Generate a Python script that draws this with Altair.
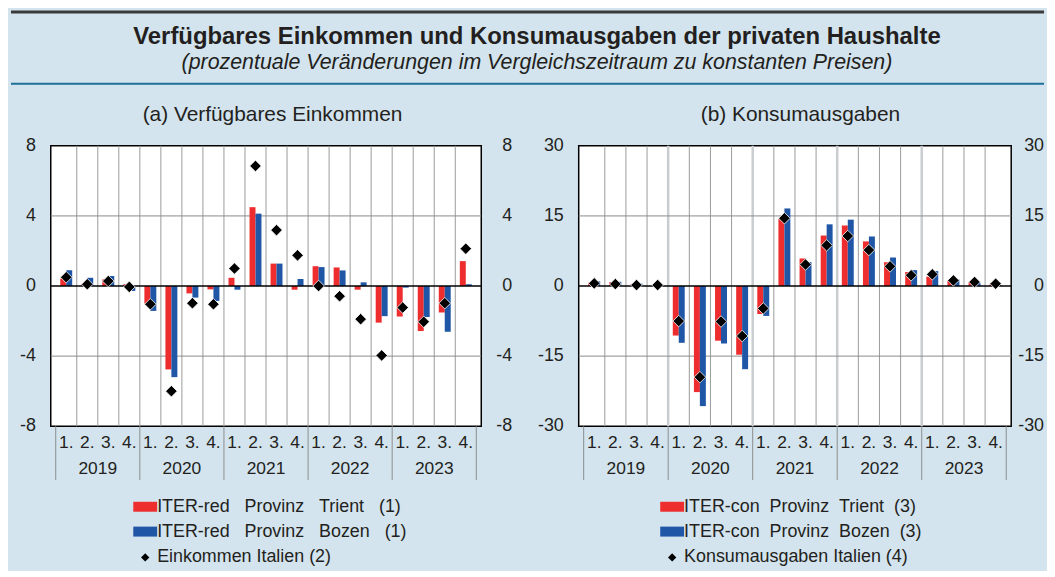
import altair as alt
import pandas as pd

FONT = "Liberation Sans"
TXT = "#231f20"
RED = "#ee2d2f"
BLUE = "#1f56a6"
BG = "#d3e4ee"

main_title = "Verfügbares Einkommen und Konsumausgaben der privaten Haushalte"
main_subtitle = "(prozentuale Veränderungen im Vergleichszeitraum zu konstanten Preisen)"

quarter_labels = ["1.", "2.", "3.", "4."] * 5
year_labels = ["2019", "2020", "2021", "2022", "2023"]

# (a) Verfügbares Einkommen
inc_trient = [0.42, 0.10, 0.38, 0.10, -1.00, -4.76, -0.42, -0.19, 0.47, 4.50, 1.28, -0.21,
              1.13, 1.06, -0.21, -2.09, -1.74, -2.57, -1.51, 1.42]
inc_bozen = [0.90, 0.47, 0.57, -0.28, -1.42, -5.20, -0.66, -0.85, -0.21, 4.13, 1.28, 0.40,
             1.08, 0.89, 0.21, -1.72, -0.09, -1.77, -2.61, 0.10]
inc_italy = [0.50, 0.10, 0.28, -0.05, -1.04, -6.00, -0.98, -1.04, 1.00, 6.85, 3.19, 1.75,
             0.00, -0.58, -1.89, -3.96, -1.23, -2.04, -0.98, 2.13]

# (b) Konsumausgaben
con_trient = [0.7, 0.85, 0.4, 0.2, -10.6, -22.7, -11.7, -14.7, -6.0, 14.4, 5.9, 10.8,
              12.95, 9.55, 5.1, 3.0, 2.0, 1.1, 0.9, 0.5]
con_bozen = [1.0, 0.9, 0.5, 0.2, -12.15, -25.7, -12.3, -17.8, -6.4, 16.6, 5.1, 13.2,
             14.2, 10.6, 6.1, 3.4, 3.2, 1.4, 0.7, 0.2]
con_italy = [0.57, 0.42, 0.2, 0.2, -7.5, -19.5, -7.6, -10.7, -4.8, 14.5, 4.6, 8.7,
             10.7, 7.7, 4.2, 2.3, 2.5, 1.2, 0.85, 0.5]

ticks_a = [-8, -4, 0, 4, 8]
ticks_b = [-30, -15, 0, 15, 30]

panel_titles = ["(a) Verfügbares Einkommen", "(b) Konsumausgaben"]
S3 = "\u00a0\u00a0\u00a0"
S2 = "\u00a0\u00a0"
legend_a = ["ITER-red" + S3 + "Provinz" + S3 + "Trient" + S3 + "(1)",
            "ITER-red" + S3 + "Provinz" + S3 + "Bozen" + S3 + "(1)",
            "Einkommen Italien (2)"]
legend_b = ["ITER-con" + S2 + "Provinz" + S2 + "Trient" + S2 + "(3)",
            "ITER-con" + S2 + "Provinz" + S2 + "Bozen" + S2 + "(3)",
            "Konsumausgaben Italien (4)"]

H = 282
FS = 18


def one(text):
    return alt.Chart(pd.DataFrame({"t": [text]}))


def panel(trient, bozen, italy, ticks, title, legend, width, year_color, year_w,
          right_x, leg_x, extra=None):
    n = len(trient)
    df = pd.DataFrame({"idx": list(range(n)), "q": quarter_labels,
                       "trient": trient, "bozen": bozen, "italy": italy})
    xs = alt.Scale(domain=[0, n], nice=False, zero=False)
    ys = alt.Scale(domain=[ticks[0], ticks[-1]], nice=False)
    base = alt.Chart(df).transform_calculate(c="datum.idx + 0.5")
    X = alt.X("c:Q", scale=xs, axis=None)

    bounds = pd.DataFrame({"b": list(range(1, n))})
    vgrid = alt.Chart(bounds).transform_filter("datum.b % 4 != 0").mark_rule(
        color="#9a9a9a", strokeWidth=1).encode(x=alt.X("b:Q", scale=xs, axis=None))
    ygrid = alt.Chart(bounds).transform_filter("datum.b % 4 == 0").mark_rule(
        color=year_color, strokeWidth=year_w).encode(x=alt.X("b:Q", scale=xs, axis=None))

    tdf = pd.DataFrame({"t": ticks})
    hgrid = alt.Chart(tdf).transform_filter(
        f"datum.t != 0 && datum.t != {ticks[0]} && datum.t != {ticks[-1]}").mark_rule(
        color="#8a8a8a", strokeWidth=1).encode(y=alt.Y("t:Q", scale=ys, axis=None))
    zero = alt.Chart(tdf).transform_filter("datum.t == 0").mark_rule(
        color="black", strokeWidth=1.5).encode(y=alt.Y("t:Q", scale=ys, axis=None))

    bar_r = base.mark_bar(size=6, xOffset=-3, color=RED).encode(
        x=X, y=alt.Y("trient:Q", scale=ys, axis=None))
    bar_b = base.mark_bar(size=6, xOffset=3, color=BLUE).encode(
        x=X, y=alt.Y("bozen:Q", scale=ys, axis=None))
    pts = base.mark_point(shape="diamond", filled=True, color="black", size=135,
                          stroke="white", strokeWidth=0.8, opacity=1).encode(
        x=X, y=alt.Y("italy:Q", scale=ys, axis=None))

    lab_l = alt.Chart(tdf).mark_text(font=FONT, fontSize=FS, color=TXT, align="right",
                                     baseline="middle").encode(
        y=alt.Y("t:Q", scale=ys, axis=None), x=alt.value(-15), text="t:N")
    lab_r = alt.Chart(tdf).mark_text(font=FONT, fontSize=FS, color=TXT, align="right",
                                     baseline="middle").encode(
        y=alt.Y("t:Q", scale=ys, axis=None), x=alt.value(right_x), text="t:N")

    qlab = base.mark_text(font=FONT, fontSize=17.5, color=TXT, baseline="middle").encode(
        x=X, y=alt.value(299), text="q:N")
    ydf = pd.DataFrame({"year": year_labels, "k": list(range(len(year_labels)))})
    ylab = alt.Chart(ydf).transform_calculate(m="datum.k * 4 + 2").mark_text(
        font=FONT, fontSize=17.5, color=TXT, baseline="middle").encode(
        x=alt.X("m:Q", scale=xs, axis=None), y=alt.value(325), text="year:N")
    sep = alt.Chart(pd.DataFrame({"yb": list(range(0, n + 1, 4))})).mark_rule(
        color="#8c8c8c", strokeWidth=1).encode(
        x=alt.X("yb:Q", scale=xs, axis=None), y=alt.value(H), y2=alt.value(336))

    ptitle = one(title).mark_text(font=FONT, fontSize=21, color=TXT, baseline="middle").encode(
        x=alt.value(223), y=alt.value(-31), text="t:N")

    legs = []
    for k, col in enumerate([RED, BLUE]):
        yc = 363 + 25 * k
        legs.append(one(legend[k]).mark_rect(color=col).encode(
            x=alt.value(leg_x - 12), x2=alt.value(leg_x + 12),
            y=alt.value(yc - 5), y2=alt.value(yc + 5)))
        legs.append(one(legend[k]).mark_text(font=FONT, fontSize=FS, color=TXT, align="left",
                                             baseline="middle").encode(
            x=alt.value(leg_x + 12), y=alt.value(yc), text="t:N"))
    legs.append(one(legend[2]).mark_point(shape="diamond", filled=True, color="black",
                                          size=70, opacity=1).encode(
        x=alt.value(leg_x), y=alt.value(414)))
    legs.append(one(legend[2]).mark_text(font=FONT, fontSize=FS, color=TXT, align="left",
                                         baseline="middle").encode(
        x=alt.value(leg_x + 12), y=alt.value(414), text="t:N"))

    layers = [vgrid, ygrid, hgrid, bar_r, bar_b, zero, pts, lab_l, lab_r, qlab, ylab, sep,
              ptitle] + legs
    if extra:
        layers += extra
    return alt.layer(*layers).properties(width=width, height=H)


# decorations relative to the left plot origin (page x 48, y 144)
top_line = one("a").mark_rule(color="#3a3a3a", strokeWidth=3).encode(
    x=alt.value(-40), x2=alt.value(999), y=alt.value(-134.5))
teal_line = one("a").mark_rule(color="#1e6f98", strokeWidth=2).encode(
    x=alt.value(-40), x2=alt.value(999), y=alt.value(-62.5))
bottom_ext = one("a").mark_rule(strokeOpacity=0, strokeWidth=1).encode(
    x=alt.value(-40), x2=alt.value(0), y=alt.value(424.5))
t_main = one(main_title).mark_text(font=FONT, fontSize=24, fontWeight="bold", color=TXT,
                                   baseline="middle").encode(
    x=alt.value(489), y=alt.value(-109), text="t:N")
t_sub = one(main_subtitle).mark_text(font=FONT, fontSize=21.5, fontStyle="italic", color=TXT,
                                     baseline="middle").encode(
    x=alt.value(489), y=alt.value(-83), text="t:N")

left = panel(inc_trient, inc_bozen, inc_italy, ticks_a, panel_titles[0], legend_a, 433,
             "#9a9a9a", 1, 464, 95, extra=[top_line, teal_line, bottom_ext, t_main, t_sub])
right = panel(con_trient, con_bozen, con_italy, ticks_b, panel_titles[1], legend_b, 435,
              "#c9cdd0", 2.5, 468, 94)

chart = alt.hconcat(left, right, spacing=98, bounds="flush", padding=0).configure(
    background=BG).configure_view(stroke="black", strokeWidth=1.5, fill="white")

chart.save("out.html", embed_options={"renderer": "svg", "actions": False})
